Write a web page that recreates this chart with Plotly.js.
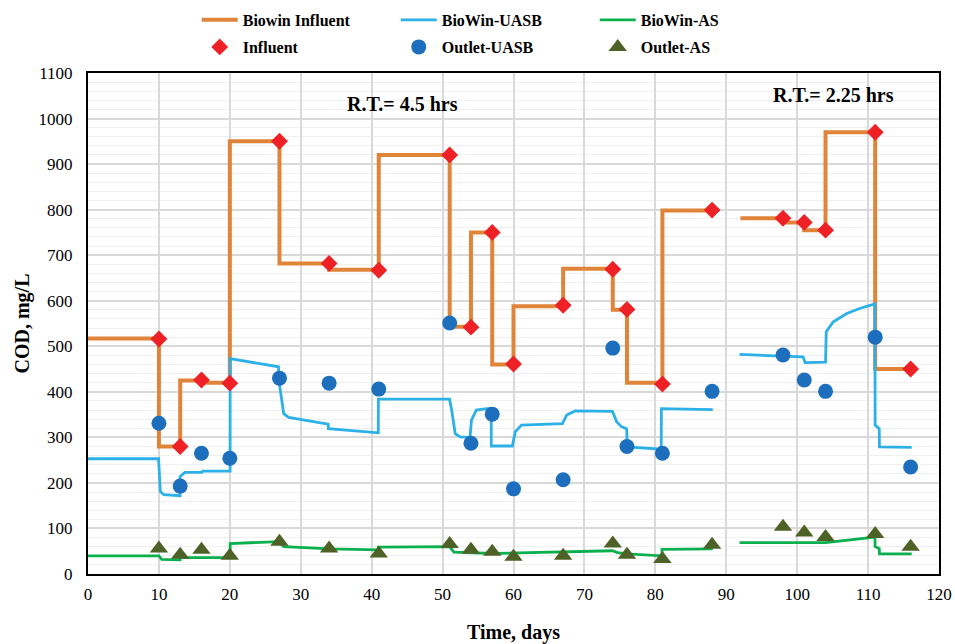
<!DOCTYPE html>
<html>
<head>
<meta charset="utf-8">
<script src="https://cdn.plot.ly/plotly-3.0.1.min.js"></script>
<style>html,body{margin:0;padding:0;background:#fff;}#chart{width:955px;height:644px;}</style>
</head>
<body>
<div id="chart"></div>
<script>
// ---- Data ----
// Biowin Influent: step line (level ends at each x)
const infStepX = [0, 10, 13, 16, 20, 27, 34, 41, 51, 54, 57, 60, 67, 74, 76, 81, 88, null, 92, 98, 101, 104, 111, 116];
const infStepY = [517, 517, 280, 425, 420, 950, 682, 668, 920, 543, 750, 460, 588, 670, 580, 420, 798, null, 781, 781, 772, 755, 970, 450];

// BioWin-UASB simulated line
const uasbSimX = [0, 9.95, 10.2, 10.7, 12.98, 12.98, 13.67, 16.06, 16.15, 20.04, 20.04, 26.86, 26.9, 27.6, 28.3, 33.87, 33.9, 40.93, 40.95, 50.98, 51.28, 51.78, 52.47, 53.87, 54.07, 54.76, 56.25, 56.85, 56.87, 59.84, 60.24, 61.13, 66.9, 67.5, 68.7, 73.96, 74.56, 75.26, 75.95, 76.05, 80.83, 80.85, 88.1, null, 91.87, 100.83, 101.13, 104.0, 104.1, 105.1, 107.0, 108.8, 110.97, 110.99, 111.57, 111.6, 116.15];
const uasbSimY = [253, 253, 181, 174, 172, 214, 223, 223, 226, 226, 473, 455, 426, 352, 344, 329, 319, 310, 384, 384, 360, 308, 301, 300, 338, 360, 363, 363, 281, 281, 312, 327, 330, 349, 358, 357, 334, 323, 319, 279, 274, 363, 361, null, 482, 477, 464, 465, 532, 554, 572, 583, 593, 327, 319, 279, 278];

// BioWin-AS simulated line
const asSimX = [0, 9.99, 10.4, 12.98, 12.99, 20.04, 20.05, 26.9, 27.6, 34.2, 40.93, 40.95, 50.98, 51.6, 57.05, 67, 73.96, 74.66, 76.05, 80.93, 80.95, 88.1, null, 91.87, 104, 110.97, 110.99, 111.57, 111.6, 116.15];
const asSimY = [40, 40, 32, 31, 36, 36, 67, 71, 60, 55, 53, 59, 60, 48, 45, 49, 51, 47, 44, 40, 54, 55, null, 69, 69, 81, 60, 56, 44, 44];

// Measured samples
const sampleDays = [10, 13, 16, 20, 27, 34, 41, 51, 54, 57, 60, 67, 74, 76, 81, 88, 98, 101, 104, 111, 116];
const influent   = [516, 280, 426, 419, 950, 682, 667, 920, 542, 750, 461, 590, 669, 581, 417, 799, 781, 772, 755, 970, 450];
const outletUASB = [331, 193, 265, 254, 430, 419, 406, 551, 287, 351, 187, 207, 496, 280, 265, 401, 481, 426, 401, 520, 235];
const outletAS   = [56, 42, 53, 40, 71, 56, 45, 66, 53, 49, 38, 40, 67, 42, 33, 64, 104, 91, 81, 88, 60];

const xTickVals = [0, 10, 20, 30, 40, 50, 60, 70, 80, 90, 100, 110, 120];
const yTickVals = [0, 100, 200, 300, 400, 500, 600, 700, 800, 900, 1000, 1100];

// ---- Styles ----
const FONT = 'Liberation Serif, Times New Roman, serif';

const traces = [
  {x: infStepX, y: infStepY, name: 'Biowin Influent', mode: 'lines', type: 'scatter',
   line: {color: '#E0843A', width: 4, shape: 'vh'}, connectgaps: false, legend: 'legend'},
  {x: uasbSimX, y: uasbSimY, name: 'BioWin-UASB', mode: 'lines', type: 'scatter',
   line: {color: '#2CB0E8', width: 2.8}, connectgaps: false, legend: 'legend'},
  {x: asSimX, y: asSimY, name: 'BioWin-AS', mode: 'lines', type: 'scatter',
   line: {color: '#0BB04E', width: 2.8}, connectgaps: false, legend: 'legend'},
  {x: sampleDays, y: influent, name: 'Influent', mode: 'markers', type: 'scatter',
   marker: {symbol: 'diamond', color: '#EE2126', size: 13}, legend: 'legend2'},
  {x: sampleDays, y: outletUASB, name: 'Outlet-UASB', mode: 'markers', type: 'scatter',
   marker: {symbol: 'circle', color: '#1D6FBE', size: 15}, legend: 'legend2'},
  {x: sampleDays, y: outletAS, name: 'Outlet-AS', mode: 'markers', type: 'scatter',
   marker: {symbol: 'triangle-up', color: '#4E6228', size: 16}, legend: 'legend2'}
];

const legendBase = {
  orientation: 'h', xref: 'container', yref: 'container', xanchor: 'left', yanchor: 'middle',
  entrywidth: 148, entrywidthmode: 'pixels', itemwidth: 36,
  font: {family: FONT, size: 16, color: '#000', weight: 'bold'},
  bgcolor: 'rgba(0,0,0,0)', borderwidth: 0
};

const layout = {
  width: 955, height: 644,
  margin: {l: 88, r: 16, t: 73, b: 70},
  paper_bgcolor: '#fff', plot_bgcolor: '#fff',
  font: {family: FONT, color: '#000'},
  showlegend: true,
  legend: Object.assign({}, legendBase, {x: 0.206, y: 0.969}),
  legend2: Object.assign({}, legendBase, {x: 0.206, y: 0.927}),
  xaxis: {
    range: [0, 120], tickvals: xTickVals, ticks: '', ticklabelstandoff: 4,
    tickfont: {family: FONT, size: 17, color: '#000'},
    showgrid: true, gridcolor: '#D9D9D9', gridwidth: 1.5, zeroline: false,
    showline: true, linecolor: '#000', linewidth: 2, mirror: true,
    title: {text: 'Time, days', font: {family: FONT, size: 20, color: '#000', weight: 'bold'}, standoff: 22}
  },
  yaxis: {
    range: [0, 1100], tickvals: yTickVals, ticks: '', ticklabelstandoff: 10,
    tickfont: {family: FONT, size: 17, color: '#000'},
    showgrid: true, gridcolor: '#D9D9D9', gridwidth: 1.5, zeroline: false,
    minor: {dtick: 20, showgrid: true, gridcolor: '#F0F0F0', gridwidth: 1},
    showline: true, linecolor: '#000', linewidth: 2, mirror: true,
    title: {text: 'COD, mg/L', font: {family: FONT, size: 20, color: '#000', weight: 'bold'}, standoff: 4}
  },
  annotations: [
    {x: 44.3, y: 1031, xref: 'x', yref: 'y', text: 'R.T.= 4.5 hrs', showarrow: false,
     font: {family: FONT, size: 20, color: '#000', weight: 'bold'}},
    {x: 105.1, y: 1051, xref: 'x', yref: 'y', text: 'R.T.= 2.25 hrs', showarrow: false,
     font: {family: FONT, size: 20, color: '#000', weight: 'bold'}}
  ]
};

Plotly.newPlot('chart', traces, layout, {displayModeBar: false, responsive: false});
</script>
</body>
</html>
